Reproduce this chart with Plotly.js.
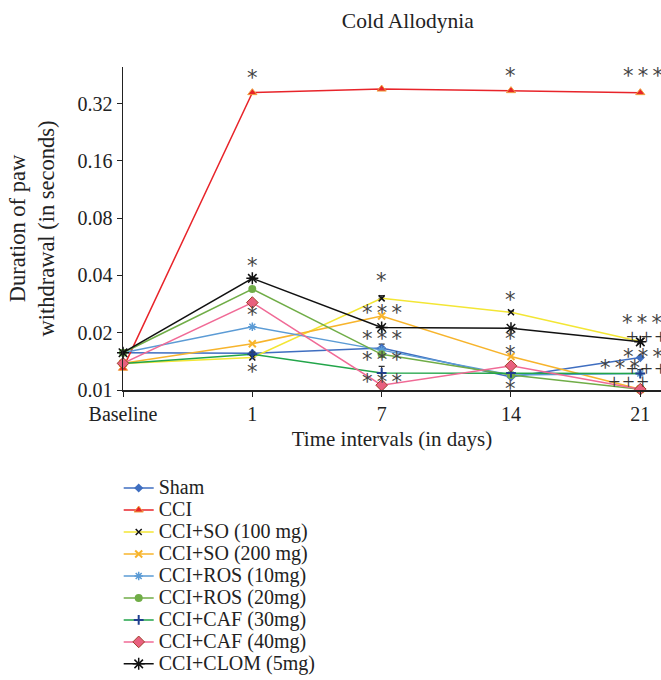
<!DOCTYPE html>
<html>
<head>
<meta charset="utf-8">
<script src="https://cdn.plot.ly/plotly-3.0.1.min.js"></script>
<style>html,body{margin:0;padding:0;background:#fff;}#chart{width:661px;height:680px;}</style>
</head>
<body>
<div id="chart"></div>
<script>
const categories = ["Baseline", "1", "7", "14", "21"];
const seriesNames = ["Sham", "CCI", "CCI+SO (100 mg)", "CCI+SO (200 mg)", "CCI+ROS (10mg)", "CCI+ROS (20mg)", "CCI+CAF (30mg)", "CCI+CAF (40mg)", "CCI+CLOM (5mg)"];
const sham    = [0.0157, 0.0156, 0.0166, 0.0117, 0.0148];
const cci     = [0.0130, 0.365, 0.381, 0.374, 0.365];
const so100   = [0.0138, 0.0148, 0.0303, 0.0256, 0.0180];
const so200   = [0.0138, 0.0175, 0.0245, 0.0150, 0.0101];
const ros10   = [0.0157, 0.0215, 0.0162, 0.0120, 0.0122];
const ros20   = [0.0157, 0.0339, 0.0154, 0.0120, 0.0101];
const caf30   = [0.0138, 0.0154, 0.0123, 0.0123, 0.0122];
const caf40   = [0.0138, 0.0288, 0.0106, 0.0134, 0.0101];
const clom    = [0.0157, 0.0386, 0.0213, 0.0211, 0.0179];
const shamErr = [0, 0, 0.0008, 0.0003, 0];
const so100Err = [0, 0, 0.0010, 0.0004, 0];
const caf30Err = [0, 0.0004, 0.0010, 0, 0.0006];
const clomErr = [0, 0.0005, 0.0004, 0, 0];
const yTicks = [0.01, 0.02, 0.04, 0.08, 0.16, 0.32];
const yTickText = ["0.01", "0.02", "0.04", "0.08", "0.16", "0.32"];

// significance marks: [category, value, text, xshift]
const S1 = "*", S3 = "*\u2009*\u2009*", P3 = "+\u200a+\u200a+";
const marks = [
  ["1", 0.468, S1, 0], ["1", 0.0482, S1, 0], ["1", 0.0268, S1, 0], ["1", 0.0134, S1, 0],
  ["7", 0.50, S3, 0], ["7", 0.0402, S1, 0], ["7", 0.0272, S3, 0], ["7", 0.0200, S3, 0],
  ["7", 0.0154, S3, 0], ["7", 0.01185, S3, 0],
  ["14", 0.48, S1, 0], ["14", 0.0319, S1, 0], ["14", 0.0199, S1, 0], ["14", 0.0167, S1, 0], ["14", 0.01084, S1, 0],
  ["21", 0.48, S3, 3], ["21", 0.0243, S3, 2], ["21", 0.0191, P3, 6], ["21", 0.0161, S3, 3],
  ["21", 0.01408, S3, -20], ["21", 0.0130, P3, 6], ["21", 0.01115, P3, -12]
];

const FONT = "Liberation Serif, DejaVu Serif, serif";
function legName(s) { return '<span style="font-size:20px">' + s + '</span>'; }
function tr(name, y, color, marker, err) {
  const t = {type: "scatter", mode: "lines+markers", x: categories, y: y, name: legName(name),
    line: {color: color, width: 1.5}, marker: marker, cliponaxis: false};
  if (err) t.error_y = {type: "data", array: err, symmetric: false, arrayminus: err.map(() => 0), color: "#333", thickness: 1.2, width: 3};
  return t;
}
const traces = [
  tr(seriesNames[0], sham, "#3F6EC0", {symbol: "diamond", size: 7, color: "#3F6EC0"}, shamErr),
  tr(seriesNames[1], cci, "#E8242A", {symbol: "triangle-up", size: 8, color: "#E8242A", line: {color: "#F0A040", width: 1}}),
  tr(seriesNames[2], so100, "#F3E634", {symbol: "x-thin", size: 6, color: "#111", line: {color: "#111", width: 1.5}}, so100Err),
  tr(seriesNames[3], so200, "#F7B42C", {symbol: "x-thin", size: 7, color: "#F7B42C", line: {color: "#F7B42C", width: 2}}),
  tr(seriesNames[4], ros10, "#5B9BD5", {symbol: "asterisk-open", size: 7, color: "#5B9BD5", line: {color: "#5B9BD5", width: 1.5}}),
  tr(seriesNames[5], ros20, "#70AD47", {symbol: "circle", size: 8, color: "#70AD47"}),
  tr(seriesNames[6], caf30, "#22A54A", {symbol: "cross-thin", size: 7, color: "#1F3F8F", line: {color: "#1F3F8F", width: 2}}, caf30Err),
  tr(seriesNames[7], caf40, "#F06A96", {symbol: "diamond", size: 9, color: "#E8607F", line: {color: "#A0402A", width: 1}}),
  tr(seriesNames[8], clom, "#111111", {symbol: "asterisk-open", size: 10, color: "#111", line: {color: "#111", width: 1.5}}, clomErr)
];

const annotations = marks.map(m => {
  const plus = m[2] === P3;
  return {x: categories.indexOf(m[0]), y: Math.log10(m[1]), xref: "x", yref: "y", text: m[2], showarrow: false,
    xshift: m[3], yshift: plus ? 0 : -6,
    font: plus ? {family: FONT, size: 22, color: "#333"} : {family: "DejaVu Sans, sans-serif", size: 21, color: "#444"}};
});

const layout = {
  width: 661, height: 680,
  paper_bgcolor: "#fff", plot_bgcolor: "#fff",
  margin: {l: 123, r: 0, t: 67, b: 290, autoexpand: false},
  font: {family: FONT, size: 20, color: "#222"},
  title: {text: "Cold Allodynia", x: 0.617, xanchor: "center", y: 0.97, yanchor: "middle", font: {family: FONT, size: 21.5, color: "#222"}},
  showlegend: true,
  legend: {x: -0.008, xanchor: "left", y: -0.254, yanchor: "top", font: {family: FONT, size: 14.6, color: "#222"},
    tracegroupgap: 0, itemwidth: 30, bgcolor: "rgba(0,0,0,0)"},
  xaxis: {type: "category", categoryorder: "array", categoryarray: categories, range: [0, 4.16], automargin: false,
    ticklabeloverflow: "allow",
    showline: true, linecolor: "#222", linewidth: 1.5, ticks: "outside", ticklen: 5, tickcolor: "#222",
    showgrid: false, zeroline: false, tickfont: {family: FONT, size: 20, color: "#222"},
    title: {text: "Time intervals (in days)", font: {family: FONT, size: 21, color: "#222"}, standoff: 8}},
  yaxis: {type: "log", range: [-2, -0.303], tickvals: yTicks, ticktext: yTickText, automargin: false,
    showline: true, linecolor: "#222", linewidth: 1.5, ticks: "outside", ticklen: 5, tickcolor: "#222",
    showgrid: false, zeroline: false, tickfont: {family: FONT, size: 20, color: "#222"},
    title: {text: "Duration of paw<br>withdrawal (in seconds)", font: {family: FONT, size: 22.5, color: "#222"}, standoff: 16}},
  annotations: annotations
};
Plotly.newPlot("chart", traces, layout, {displayModeBar: false, staticPlot: true});
</script>
</body>
</html>
